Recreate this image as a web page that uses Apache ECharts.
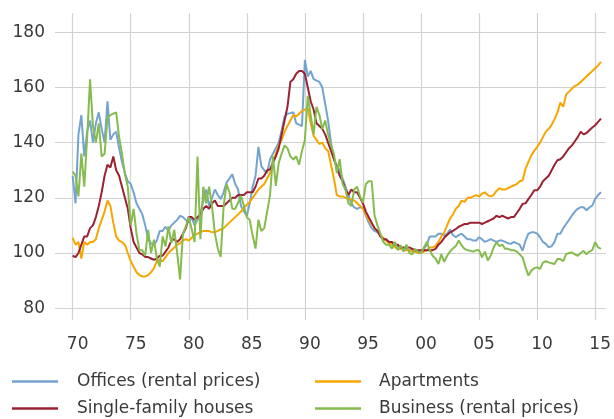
<!DOCTYPE html>
<html>
<head>
<meta charset="utf-8">
<script src="https://cdn.jsdelivr.net/npm/echarts@6/dist/echarts.min.js"></script>
<style>
  html, body { margin: 0; padding: 0; background: #fff; }
  #chart { width: 614px; height: 419px; }
</style>
</head>
<body>
<div id="chart"></div>
<script>
// Quarterly index values (1970 Q1 .. 2015 Q3), axis year shown as two digits (70 = 1970, 100 = 2000)
const firstYear = 70;          // 1970 Q1
const periodsPerYear = 4;      // quarterly observations

const seriesNames = ['Offices (rental prices)', 'Apartments', 'Single-family houses', 'Business (rental prices)'];

const offices = [
  128, 118, 143, 150,   135, 144, 148, 140,   147, 151, 145, 140,   155, 141, 143, 144,
  138, 133, 129, 126,   125, 122, 118, 116,   114, 110, 105, 103.5, 103, 104.5, 108, 108,
  109.5, 108, 110, 111, 112, 113.5, 113, 112, 111, 113, 110, 112,   114.5, 119, 123, 117,
  120, 123, 121, 119.5, 122, 125.5, 127, 128.5, 125, 123, 117, 115, 113.5, 118, 124, 128,
  138.5, 131.5, 130, 129, 134, 136, 138, 140, 144.5, 149.5, 150.5, 150.7, 151, 147, 146.5, 146,
  170, 164, 166, 163,   162.5, 162, 160, 154, 148, 140, 134, 131.5, 130, 127, 124, 121,
  118, 116.5, 116, 116.5, 116.5, 113.5, 111, 109, 108, 107.5, 106.5, 105, 104.5, 104, 103.5, 103,
  102.5, 102, 101.5, 101.5, 101, 101, 100.5, 100.5, 100, 101.5, 103, 106, 106, 106, 107, 107,
  106.3, 107, 108.5, 106.5, 105.7, 106.5, 107, 106, 105, 105, 104.5, 104.5, 105.7, 105, 104, 104.5,
  105, 104.5, 104, 104.5, 104.5, 104, 103.5, 103.3, 104, 103.5, 103, 100.8, 104.5, 107, 107.5, 107.5,
  107, 105.7, 104, 103.3, 102, 102.5, 104, 107, 107, 109, 110.5, 112, 113.6, 115, 116, 116.6,
  116.6, 115.5, 116.5, 117.2, 119.6, 121, 122
];

const houses = [
  99, 98.5, 100, 103,   106, 106, 109, 110,   113, 117, 122, 128,   132, 131, 135, 130,
  128, 124, 120, 116,   109, 104, 102, 100,   99.5, 98.5, 98.5, 98, 97.5, 98, 99, 99,
  100.5, 102, 104.5, 105, 104, 105, 107, 109, 113, 113, 112, 113,   114, 116, 117, 116,
  118, 119, 117, 117,   117, 118, 119, 120,   120, 121, 121, 121,   122, 122, 122, 124,
  127, 127, 128, 130,   130.3, 132.7, 135, 138, 143, 148, 153, 162, 163, 165, 166, 166,
  165, 160, 155, 152,   147, 146, 145, 143,   140, 137, 134, 131,   128, 126, 123, 121,
  123, 122, 122, 120,   118, 115, 113, 111,   109, 108, 106, 105,   105, 104, 104, 103,
  103, 102, 102, 102,   102, 101.5, 101, 101, 101, 101, 101, 101,   101, 101.5, 103, 104,
  105.5, 106.5, 107.5, 108, 108.7, 109.5, 110, 110.5, 110.5, 111, 111, 111, 111, 110.5, 111, 111.5,
  112, 112.5, 113.5, 113, 113.5, 113, 112.5, 113, 113, 114.5, 116, 117.8, 118, 119.5, 121, 122.7,
  122.7, 124, 126, 127, 128, 130, 132, 133.6, 134, 135, 136.5, 138, 139, 140.5, 142, 144,
  143, 143.5, 144.5, 145.5, 146.3, 147.5, 148.7
];

const apartments = [
  105.5, 103, 104, 98,  104, 103, 104, 104,   105, 109, 112, 115,   119, 117, 111, 106,
  104.5, 104, 103, 100, 97, 95, 93, 92,       91.5, 91.5, 92, 93,    94.5, 97, 97.5, 97,
  98.5, 100, 101, 102,  103, 103.5, 104.5, 105, 104.5, 105.5, 106.5, 107, 107.5, 108, 108, 108,
  107.5, 107.5, 108, 108.5, 109, 110, 111, 112, 113, 114, 115, 116.5, 117.5, 118.5, 120, 121.5,
  123, 124, 125, 127,   129, 133, 136, 139,   141, 144, 146, 148,   150, 149.5, 150.5, 151.5,
  152, 152.5, 147, 142.5, 141, 139.5, 140, 138, 137, 132, 127, 121, 120.5, 120.5, 120, 119.5,
  119.5, 119, 118, 117, 116, 114, 112, 110.5, 109, 108, 106.5, 105.5, 104.5, 103.5, 103, 102,
  101.5, 101.5, 101, 101, 101, 100.5, 100.5, 100, 100, 100.5, 101, 102, 102, 102.5, 104, 106,
  107.5, 110, 112.5, 114, 116, 117, 119, 118.5, 120, 120, 120.5, 121, 120.5, 121.5, 122, 121,
  120.5, 121, 122.5, 123.5, 123, 123, 123.5, 124, 124.5, 125, 126, 126.3, 130.5, 133, 135.4, 137,
  138.4, 140, 142, 144, 145, 146.5, 148.5, 151, 154.5, 153, 157.5, 158.5, 159.6, 160.5, 161, 162,
  163, 164, 165, 166, 167, 168, 169.3
];

const business = [
  129.5, 128, 120.5, 136, 124, 142, 163, 146,  140, 147, 135, 136,   149, 150, 150.5, 151,
  142, 136, 128.5, 124, 110, 116, 107, 101,     101, 99, 108.4, 100,   104.8, 98, 95, 106,
  102.4, 109.6, 103.6, 108.4, 100, 90.4, 107, 109.6, 113, 108.7, 104, 135, 105, 124, 118, 124,
  117, 107, 101.6, 98.6, 117, 125, 122, 116,  116, 118.3, 120.7, 117, 113, 112, 106.3, 101.6,
  112, 108, 109, 115,   121, 135, 124.3, 132.7, 136, 139, 138, 135,  133.9, 135, 132, 137,
  141, 157, 150, 143,   153, 150, 145, 148,   143, 139, 136, 129,   134, 125, 123, 118,
  117, 123, 124, 120.5, 118.3, 125, 126, 126, 113.5, 110, 107, 104,  103, 103, 101.6, 104,
  101, 102.8, 100.5, 103, 100, 99.5, 101.5, 100.4, 100, 102, 104, 101, 99, 98, 96, 99.5,
  96.8, 99, 100.5, 101.6, 102.5, 104.5, 102.7, 101.5, 101, 100.8, 100.5, 101, 101, 98.4, 100.5, 97.3,
  99, 102, 103.9, 102.5, 103, 101.5, 101.5, 101, 101, 100.5, 99.5, 98.4, 94.8, 91.8, 93.6, 94.5,
  94.8, 94.2, 96.5, 97, 96.6, 96.3, 96, 97.8, 97.8, 97, 99.6, 100, 100.2, 99.5, 99, 100,
  100.8, 99.5, 100.5, 101, 103.9, 102, 101.5
];

const xTickValues = [70, 75, 80, 85, 90, 95, 100, 105, 110, 115];
const xTickLabels = ['70', '75', '80', '85', '90', '95', '00', '05', '10', '15'];
const yTickValues = [80, 100, 120, 140, 160, 180];

const colors = {
  'Offices (rental prices)': '#74a3cf',
  'Apartments': '#f7a600',
  'Single-family houses': '#9b2233',
  'Business (rental prices)': '#86bb4e'
};

const valuesByName = {
  'Offices (rental prices)': offices,
  'Apartments': apartments,
  'Single-family houses': houses,
  'Business (rental prices)': business
};

function toPairs(values) {
  return values.map((v, i) => [firstYear + i / periodsPerYear, v]);
}

const FONT = 'DejaVu Sans';
const TEXT = '#3a3a3a';

const chart = echarts.init(document.getElementById('chart'), null, { renderer: 'canvas' });

function makeLegend(left, textPad, names) {
  return {
    orient: 'vertical',
    left: left,
    top: 373,
    padding: 0,
    icon: 'rect',
    itemWidth: 46,
    itemHeight: 2.6,
    itemGap: 10,
    textStyle: { fontFamily: FONT, fontSize: 17, color: TEXT, lineHeight: 17, padding: [0, 0, 0, textPad] },
    data: names
  };
}

chart.setOption({
  animation: false,
  backgroundColor: '#fff',
  grid: { left: 55, right: 7, top: 13, bottom: 99, containLabel: false },
  legend: [
    makeLegend(12, 14, ['Offices (rental prices)', 'Single-family houses']),
    makeLegend(315, 13, ['Apartments', 'Business (rental prices)'])
  ],
  xAxis: {
    type: 'value',
    min: 68.48,
    max: 115.92,
    axisLine: { show: false },
    axisTick: { show: false, customValues: xTickValues },
    axisLabel: {
      customValues: xTickValues,
      margin: 16,
      padding: [0, 0, 0, 10],
      fontFamily: FONT, fontSize: 17, color: TEXT,
      formatter: v => xTickLabels[xTickValues.indexOf(Math.round(v))]
    },
    splitLine: { show: true, lineStyle: { color: '#d2d2d2', width: 1.2 } }
  },
  yAxis: {
    type: 'value',
    min: 75.7,
    max: 187,
    axisLine: { show: false },
    axisTick: { show: false, customValues: yTickValues },
    axisLabel: {
      customValues: yTickValues,
      margin: 10,
      fontFamily: FONT, fontSize: 17, color: TEXT
    },
    splitLine: { show: true, lineStyle: { color: '#d2d2d2', width: 1.2 } }
  },
  series: seriesNames.map(name => ({
    name: name,
    type: 'line',
    data: toPairs(valuesByName[name]),
    symbol: 'none',
    showSymbol: false,
    lineStyle: { color: colors[name], width: 2 },
    itemStyle: { color: colors[name] }
  }))
});
</script>
</body>
</html>
